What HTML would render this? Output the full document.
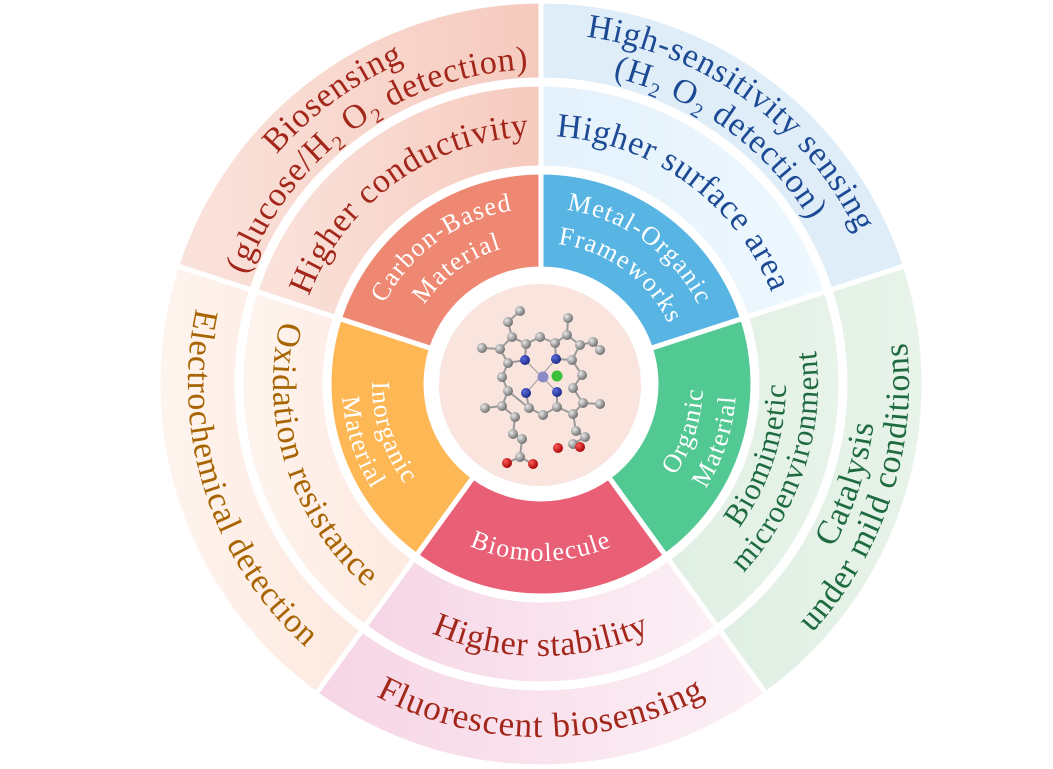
<!DOCTYPE html>
<html><head><meta charset="utf-8"><style>
html,body{margin:0;padding:0;background:#fff;}
svg{display:block;}
text{font-family:"Liberation Serif",serif;}
.in{font-size:26px;letter-spacing:1.3px;fill:#fff;}
.md{font-size:34px;letter-spacing:0.8px;}
.ou{font-size:34px;letter-spacing:0.8px;}
</style></head><body>
<svg width="1053" height="769" viewBox="0 0 1053 769" xmlns="http://www.w3.org/2000/svg">
<defs>
<linearGradient id="gc" x1="0" y1="0" x2="1" y2="0"><stop offset="0" stop-color="#fae3dc"/><stop offset="1" stop-color="#f6cabe"/></linearGradient>
<linearGradient id="gb" x1="0" y1="0" x2="1" y2="0"><stop offset="0" stop-color="#f6d5e5"/><stop offset="1" stop-color="#fcf0f6"/></linearGradient>
<linearGradient id="gi" x1="0" y1="0" x2="1" y2="0"><stop offset="0" stop-color="#fef4ee"/><stop offset="1" stop-color="#fde9e0"/></linearGradient>
<linearGradient id="gm" x1="0" y1="0" x2="1" y2="0"><stop offset="0" stop-color="#e4f1fb"/><stop offset="1" stop-color="#eef8fe"/></linearGradient>
<linearGradient id="go" x1="0" y1="0" x2="1" y2="0"><stop offset="0" stop-color="#e0efe3"/><stop offset="1" stop-color="#e8f3ea"/></linearGradient>
<radialGradient id="ball" cx="0.35" cy="0.35" r="0.7"><stop offset="0" stop-color="#e8e8e8"/><stop offset="1" stop-color="#6a6a6a"/></radialGradient>
<radialGradient id="ballN" cx="0.35" cy="0.35" r="0.7"><stop offset="0" stop-color="#5b6ee0"/><stop offset="1" stop-color="#1a2680"/></radialGradient>
<radialGradient id="ballR" cx="0.35" cy="0.35" r="0.7"><stop offset="0" stop-color="#ff5a5a"/><stop offset="1" stop-color="#a00000"/></radialGradient>

<path id="t141" d="M424.1,305.2 A141 141 0 0 1 657.9,305.2"/>
<path id="t176" d="M395.1,285.6 A176 176 0 0 1 686.9,285.6"/>
<path id="t248" d="M335.4,245.3 A248 248 0 0 1 746.6,245.3"/>
<path id="t315" d="M279.9,207.9 A315 315 0 0 1 802.1,207.9"/>
<path id="t350" d="M250.8,188.3 A350 350 0 0 1 831.2,188.3"/>
<path id="b162" d="M406.7,474.6 A162 162 0 0 0 675.3,474.6"/>
<path id="b195" d="M379.3,493.0 A195 195 0 0 0 702.7,493.0"/>
<path id="b169" d="M400.9,478.5 A169 169 0 0 0 681.1,478.5"/>
<path id="b199" d="M376.0,495.3 A199 199 0 0 0 706.0,495.3"/>
<path id="b177" d="M394.3,483.0 A177 177 0 0 0 687.7,483.0"/>
<path id="b272" d="M315.5,536.1 A272 272 0 0 0 766.5,536.1"/>
<path id="b268" d="M318.8,533.9 A268 268 0 0 0 763.2,533.9"/>
<path id="b245" d="M337.9,521.0 A245 245 0 0 0 744.1,521.0"/>
<path id="b277" d="M311.4,538.9 A277 277 0 0 0 770.6,538.9"/>
<path id="b335" d="M263.3,571.3 A335 335 0 0 0 818.7,571.3"/>
<path id="b368" d="M235.9,589.8 A368 368 0 0 0 846.1,589.8"/>
<path id="b353" d="M248.3,581.4 A353 353 0 0 0 833.7,581.4"/>
</defs>

<g stroke="#fff" stroke-width="5" stroke-linejoin="miter">
<path fill="#dfedf8" d="M541,1 A383 383 0 0 1 905.3,265.7 L830.1,290.1 A304 304 0 0 0 541,80 Z"/>
<path fill="url(#go)" d="M905.3,265.7 A383 383 0 0 1 766.1,693.8 L719.7,629.9 A304 304 0 0 0 830.1,290.1 Z"/>
<path fill="url(#gb)" d="M766.1,693.8 A383 383 0 0 1 315.9,693.8 L362.3,629.9 A304 304 0 0 0 719.7,629.9 Z"/>
<path fill="url(#gi)" d="M315.9,693.8 A383 383 0 0 1 176.7,265.7 L251.9,290.1 A304 304 0 0 0 362.3,629.9 Z"/>
<path fill="url(#gc)" d="M176.7,265.7 A383 383 0 0 1 541,1 L541,80 A304 304 0 0 0 251.9,290.1 Z"/>
<path fill="url(#gm)" d="M541,84 A300 300 0 0 1 826.3,291.3 L746.4,317.3 A216 216 0 0 0 541,168 Z"/>
<path fill="url(#go)" d="M826.3,291.3 A300 300 0 0 1 717.3,626.7 L668.0,558.7 A216 216 0 0 0 746.4,317.3 Z"/>
<path fill="url(#gb)" d="M717.3,626.7 A300 300 0 0 1 364.7,626.7 L414.0,558.7 A216 216 0 0 0 668.0,558.7 Z"/>
<path fill="url(#gi)" d="M364.7,626.7 A300 300 0 0 1 255.7,291.3 L335.6,317.3 A216 216 0 0 0 414.0,558.7 Z"/>
<path fill="url(#gc)" d="M255.7,291.3 A300 300 0 0 1 541,84 L541,168 A216 216 0 0 0 335.6,317.3 Z"/>
<path fill="#58b5e3" d="M541,172 A212 212 0 0 1 742.6,318.5 L650.4,348.5 A115 115 0 0 0 541,269 Z"/>
<path fill="#52c993" d="M742.6,318.5 A212 212 0 0 1 665.6,555.5 L608.6,477.0 A115 115 0 0 0 650.4,348.5 Z"/>
<path fill="#e85f76" d="M665.6,555.5 A212 212 0 0 1 416.4,555.5 L473.4,477.0 A115 115 0 0 0 608.6,477.0 Z"/>
<path fill="#fdb855" d="M416.4,555.5 A212 212 0 0 1 339.4,318.5 L431.6,348.5 A115 115 0 0 0 473.4,477.0 Z"/>
<path fill="#ef8872" d="M339.4,318.5 A212 212 0 0 1 541,172 L541,269 A115 115 0 0 0 431.6,348.5 Z"/>
</g>

<circle cx="540" cy="385" r="101" fill="#fae4de"/>

<g stroke="#9a9a9a" stroke-width="2" fill="none">
<polyline points="520,311 508,322 512,337 500,349 482,348"/>
<polyline points="512,337 526,344 540,337 555,343 567,335 568,318"/>
<polyline points="567,335 580,345 593,342 600,350"/>
<polyline points="580,345 572,360 582,375 573,388 583,403 600,404"/>
<polyline points="500,349 508,363 502,377 508,391 502,406 485,408"/>
<polyline points="508,391 529,408 543,415 557,407 573,414 583,403"/>
<polyline points="502,406 515,417 513,434 522,439 520,457 507,463"/>
<polyline points="520,457 533,464"/>
<polyline points="573,414 576,431 585,437 573,444 580,447"/>
<polyline points="526,344 525,360 508,363"/><polyline points="555,343 556,359 572,360"/>
<polyline points="526,393 529,408"/><polyline points="557,392 557,407"/>
<line x1="525" y1="360" x2="557" y2="392" stroke-width="1"/><line x1="556" y1="359" x2="526" y2="393" stroke-width="1"/>
</g>
<g fill="url(#ball)">
<circle cx="520" cy="311" r="5"/><circle cx="508" cy="322" r="5"/><circle cx="512" cy="337" r="5"/><circle cx="500" cy="349" r="5"/><circle cx="482" cy="348" r="5"/><circle cx="508" cy="363" r="5"/><circle cx="526" cy="344" r="5"/><circle cx="540" cy="337" r="5"/><circle cx="555" cy="343" r="5"/><circle cx="568" cy="318" r="5"/><circle cx="567" cy="335" r="5"/><circle cx="580" cy="345" r="5"/><circle cx="593" cy="342" r="5"/><circle cx="600" cy="350" r="5"/><circle cx="572" cy="360" r="5"/><circle cx="582" cy="375" r="5"/><circle cx="502" cy="377" r="5"/><circle cx="508" cy="391" r="5"/><circle cx="502" cy="406" r="5"/><circle cx="485" cy="408" r="5"/><circle cx="515" cy="417" r="5"/><circle cx="529" cy="408" r="5"/><circle cx="543" cy="415" r="5"/><circle cx="557" cy="407" r="5"/><circle cx="573" cy="388" r="5"/><circle cx="583" cy="403" r="5"/><circle cx="600" cy="404" r="5"/><circle cx="573" cy="414" r="5"/><circle cx="576" cy="431" r="5"/><circle cx="585" cy="437" r="5"/><circle cx="573" cy="444" r="5"/><circle cx="513" cy="434" r="5"/><circle cx="522" cy="439" r="5"/><circle cx="520" cy="457" r="5"/>
</g>
<g fill="url(#ballN)"><circle cx="525" cy="360" r="5"/><circle cx="556" cy="359" r="5"/><circle cx="526" cy="393" r="5"/><circle cx="557" cy="392" r="5"/></g>
<circle cx="543" cy="377" r="5.5" fill="#8a8ac8"/><circle cx="557" cy="376" r="5.5" fill="#3cc03c"/>
<g fill="url(#ballR)"><circle cx="507" cy="463" r="5"/><circle cx="533" cy="464" r="5"/><circle cx="558" cy="448" r="5"/><circle cx="580" cy="447" r="5"/></g>

<g transform="rotate(-36 541 384)" text-anchor="middle">
<text class="in"><textPath href="#t176" startOffset="50%">Carbon-Based</textPath></text>
<text class="in"><textPath href="#t141" startOffset="50%">Material</textPath></text>
<text class="md" fill="#a3261a"><textPath href="#t248" startOffset="50%">Higher conductivity</textPath></text>
<text class="ou" fill="#a3261a"><textPath href="#t350" startOffset="50%">Biosensing</textPath></text>
<text class="ou" fill="#a3261a"><textPath href="#t315" startOffset="50%">(glucose/H₂ O₂  detection)</textPath></text>
</g>
<g transform="rotate(36 541 384)" text-anchor="middle">
<text class="in"><textPath href="#t176" startOffset="50%">Metal-Organic</textPath></text>
<text class="in"><textPath href="#t141" startOffset="50%">Frameworks</textPath></text>
<text class="md" fill="#1c4a94"><textPath href="#t248" startOffset="50%">Higher surface area</textPath></text>
<text class="ou" fill="#1c4a94"><textPath href="#t350" startOffset="50%">High-sensitivity sensing</textPath></text>
<text class="ou" fill="#1c4a94"><textPath href="#t315" startOffset="50%">(H₂  O₂  detection)</textPath></text>
</g>
<g transform="rotate(-72 541 384)" text-anchor="middle">
<text class="in"><textPath href="#b162" startOffset="50%">Organic</textPath></text>
<text class="in"><textPath href="#b195" startOffset="50%">Material</textPath></text>
<text font-size="31" letter-spacing="0.8" fill="#1e6b40"><textPath href="#b245" startOffset="50%">Biomimetic</textPath></text>
<text font-size="31" letter-spacing="0.8" fill="#1e6b40"><textPath href="#b277" startOffset="50%">microenvironment</textPath></text>
<text class="ou" fill="#1e6b40"><textPath href="#b335" startOffset="50%">Catalysis</textPath></text>
<text class="ou" fill="#1e6b40"><textPath href="#b368" startOffset="50%">under mild conditions</textPath></text>
</g>
<g text-anchor="middle">
<text class="in"><textPath href="#b177" startOffset="50%">Biomolecule</textPath></text>
<text class="md" fill="#a3261a"><textPath href="#b272" startOffset="50%">Higher stability</textPath></text>
<text font-size="35" letter-spacing="1" fill="#a3261a"><textPath href="#b353" startOffset="50%">Fluorescent biosensing</textPath></text>
</g>
<g transform="rotate(72 541 384)" text-anchor="middle">
<text class="in"><textPath href="#b169" startOffset="50%">Inorganic</textPath></text>
<text class="in"><textPath href="#b199" startOffset="50%">Material</textPath></text>
<text class="md" fill="#a86400"><textPath href="#b268" startOffset="50%">Oxidation resistance</textPath></text>
<text class="ou" fill="#a86400"><textPath href="#b353" startOffset="50%">Electrochemical detection</textPath></text>
</g>
</svg>
</body></html>
